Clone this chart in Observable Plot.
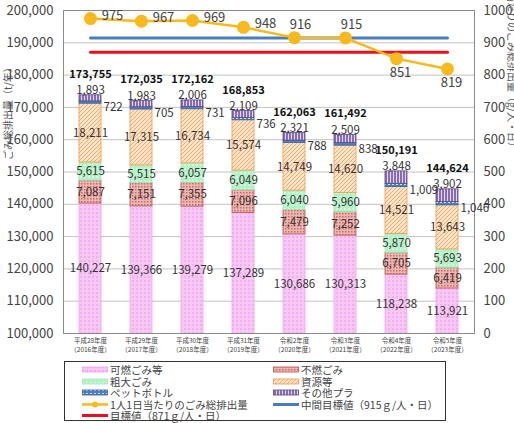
<!DOCTYPE html>
<html><head><meta charset="utf-8">
<script src="https://cdn.jsdelivr.net/npm/d3@7"></script>
<script src="https://cdn.jsdelivr.net/npm/@observablehq/plot@0.6"></script>
<style>
body{margin:0;background:#fff;font-family:"Noto Sans CJK JP","Noto Sans",sans-serif;}
#wrap{position:relative;width:514px;height:423px;overflow:hidden;background:#fff;}
#chart{position:absolute;left:0;top:0;}
#legend{position:absolute;left:64px;top:361px;width:382px;height:60px;border:1.5px solid #333;box-sizing:border-box;font-size:10.5px;color:#444;}
.li{position:absolute;display:flex;align-items:center;height:11px;line-height:11px;white-space:nowrap;}
.li span{line-height:11px;font-size:10.5px;}
.li svg{margin-right:2px;}
</style></head><body><div id="wrap"><div id="chart"></div><div id="legend"></div></div>
<script>
// ---- data ----
const yearLabels = ["平成28年度\n（2016年度）","平成29年度\n（2017年度）","平成30年度\n（2018年度）","平成31年度\n（2019年度）","令和2年度\n（2020年度）","令和3年度\n（2021年度）","令和4年度\n（2022年度）","令和5年度\n（2023年度）"];
const burnable      = [140227,139366,139279,137289,130686,130313,118238,113921];
const nonBurnable   = [7087,7151,7355,7096,7479,7252,6705,6419];
const bulky         = [5615,5515,6057,6049,6040,5960,5870,5693];
const resources     = [18211,17315,16734,15574,14749,14620,14521,13643];
const petBottles    = [722,705,731,736,788,838,1009,1046];
const otherPlastics = [1893,1983,2006,2109,2321,2509,3848,3902];
const totals        = [173755,172035,172162,168853,162063,161492,150191,144624];
const perCapita     = [975,967,969,948,916,915,851,819];
const midTarget = 915;
const target = 871;
const seriesNames = ["可燃ごみ等","不燃ごみ","粗大ごみ","資源等","ペットボトル","その他プラ"];
const leftTicks  = [100000,110000,120000,130000,140000,150000,160000,170000,180000,190000,200000];
const rightTicks = [0,100,200,300,400,500,600,700,800,900,1000];
const leftTitle  = "ごみ総排出量（t/年）";
const rightTitle = "1人1日当たりのごみ総排出量（g/人・日）";

// ---- helpers ----
const yMin = leftTicks[0], yMax = leftTicks[leftTicks.length-1];
const rMax = rightTicks[rightTicks.length-1];
const toY = v => yMin + v * (yMax - yMin) / rMax;
const fromY = y => Math.round((y - yMin) * rMax / (yMax - yMin));
const fmt = d3.format(",");

const seriesValues = [burnable, nonBurnable, bulky, resources, petBottles, otherPlastics];
const rows = [];
yearLabels.forEach((yr, i) => {
  let c = 0;
  seriesValues.forEach((vals, k) => {
    rows.push({year: yr, k, value: vals[i], y1: c, y2: c + vals[i]});
    c += vals[i];
  });
});

const strokeColors = ["#f2a6ef","#c0504d","#9fe6b5","#f79646","#2f63a8","#5f4a80"];

const marks = [
  Plot.gridY(leftTicks, {stroke:"#b4b4b4", strokeOpacity:1, strokeWidth:0.8}),
  ...seriesValues.map((_, k) => Plot.barY(rows.filter(r => r.k === k), {
    x: "year", y1: "y1", y2: "y2", fill: `url(#pat${k})`, stroke: strokeColors[k], strokeWidth: 0.8, clip: true
  })),
  Plot.frame({stroke:"#8a8a8a"}),
  Plot.axisY(leftTicks, {anchor:"left", tickFormat: fmt, tickSize:0, tickPadding:10, fontSize:13, label:null}),
  Plot.axisY(rightTicks.map(toY), {anchor:"right", tickFormat: d => String(fromY(d)), tickSize:0, tickPadding:9, fontSize:13, label:null}),
  Plot.axisX({tickSize:0, tickPadding:3, fontSize:6.5, lineHeight:1.4, label:null}),
  Plot.text([leftTitle], {frameAnchor:"left", dx:-55, dy:-12, rotate:-90, fontSize:10, fill:"#555"}),
  Plot.text([rightTitle], {frameAnchor:"right", dx:37, dy:-20, rotate:90, fontSize:10, fill:"#555"}),
  Plot.line(yearLabels, {x: d => d, y: () => toY(midTarget), stroke:"#4a7ebb", strokeWidth:3}),
  Plot.line(yearLabels, {x: d => d, y: () => toY(target), stroke:"#e8101a", strokeWidth:3}),
  Plot.line(perCapita, {x: (d,i) => yearLabels[i], y: d => toY(d), stroke:"#f9b81b", strokeWidth:2.5}),
  Plot.dot(perCapita, {x: (d,i) => yearLabels[i], y: d => toY(d), r:6.5, fill:"#f9b81b"}),
  Plot.text(perCapita, {filter:(d,i) => i < 4, x:(d,i) => yearLabels[i], y: d => toY(d), text: d => String(d), dx:22, dy:-3, fontSize:13, fill:"#444"}),
  Plot.text(perCapita, {filter:(d,i) => i >= 4 && i < 6, x:(d,i) => yearLabels[i], y: d => toY(d), text: d => String(d), dx:6, dy:-13, fontSize:13, fill:"#444"}),
  Plot.text(perCapita, {filter:(d,i) => i >= 6, x:(d,i) => yearLabels[i], y: d => toY(d), text: d => String(d), dx:4, dy:14, fontSize:13, fill:"#444"}),
  Plot.text(rows.filter(r => r.k <= 3), {x:"year", y: d => (Math.max(d.y1, yMin) + d.y2) / 2, text: d => fmt(d.value), fontSize:11.5, fill:"#333"}),
  Plot.text(rows.filter(r => r.k === 4), {x:"year", y: d => (d.y1 + d.y2) / 2, text: d => fmt(d.value), dx:13, dy:5, textAnchor:"start", fontSize:11.5, fill:"#333"}),
  Plot.text(rows.filter(r => r.k === 5), {x:"year", y:"y2", text: d => fmt(d.value), dy:-5, fontSize:11.5, fill:"#333"}),
  Plot.text(totals, {x:(d,i) => yearLabels[i], y: d => d, text: d => fmt(d), dy:-21, fontSize:11, fontWeight:"bold", fill:"#111"})
];

const svg = Plot.plot({
  width: 514, height: 355,
  marginLeft: 63, marginRight: 40, marginTop: 10, marginBottom: 22,
  style: {fontFamily: '"Noto Sans CJK JP","Noto Sans",sans-serif', color:"#444", background:"#fff"},
  x: {domain: yearLabels, paddingInner: 0.57, paddingOuter: 0.285, axis: null},
  y: {domain: [yMin, yMax], axis: null},
  marks
});

// patterns
const defs = d3.select(svg).insert("defs", ":first-child");
function pat(id, w, h, base, draw) {
  const p = defs.append("pattern").attr("id", id).attr("patternUnits","userSpaceOnUse").attr("width", w).attr("height", h);
  p.append("rect").attr("width", w).attr("height", h).attr("fill", base);
  draw(p);
}
pat("pat0", 4, 4, "#f8c8f5", p => { p.append("rect").attr("x",0).attr("y",0).attr("width",2).attr("height",2).attr("fill","#f3aef0"); });
pat("pat1", 3, 3, "#eab8b2", p => { p.append("rect").attr("x",0).attr("y",0).attr("width",1.5).attr("height",1.5).attr("fill","#cd6a66"); });
pat("pat2", 4, 4, "#b3f1c6", p => { p.append("rect").attr("x",0).attr("y",0).attr("width",2).attr("height",2).attr("fill","#cdf8da"); });
pat("pat3", 4, 4, "#fde5cc", p => { p.append("path").attr("d","M-1,1 L1,-1 M0,4 L4,0 M3,5 L5,3").attr("stroke","#f5a35e").attr("stroke-width",0.9); });
pat("pat4", 4, 3, "#4f81bd", p => { p.append("rect").attr("x",0).attr("y",1).attr("width",2).attr("height",1).attr("fill","#cfe0f5"); });
pat("pat5", 3, 3, "#8a6db0", p => { p.append("rect").attr("x",0).attr("y",0).attr("width",1).attr("height",3).attr("fill","#e2d6f0"); });

document.getElementById("chart").appendChild(svg);

// legend
const legend = document.getElementById("legend");
const legendItems = [
  {label: seriesNames[0], type:"bar", k:0, col:0, row:0},
  {label: seriesNames[1], type:"bar", k:1, col:1, row:0},
  {label: seriesNames[2], type:"bar", k:2, col:0, row:1},
  {label: seriesNames[3], type:"bar", k:3, col:1, row:1},
  {label: seriesNames[4], type:"bar", k:4, col:0, row:2},
  {label: seriesNames[5], type:"bar", k:5, col:1, row:2},
  {label: "1人1日当たりのごみ総排出量", type:"dotline", color:"#f9b81b", col:0, row:3},
  {label: "中間目標値（915ｇ/人・日）", type:"line", color:"#4a7ebb", col:1, row:3},
  {label: "目標値（871ｇ/人・日）", type:"line", color:"#e8101a", col:0, row:4}
];
legendItems.forEach(it => {
  const div = document.createElement("div");
  div.className = "li";
  div.style.left = (it.col === 0 ? 17 : 208) + "px";
  div.style.top = (2 + it.row * 11.5) + "px";
  let sw;
  if (it.type === "bar") {
    sw = `<svg width="26" height="7"><rect x="0.5" y="1" width="25" height="5" fill="url(#pat${it.k})" stroke="${strokeColors[it.k]}" stroke-width="0.8"/></svg>`;
  } else if (it.type === "dotline") {
    sw = `<svg width="26" height="7"><line x1="0" x2="26" y1="3.5" y2="3.5" stroke="${it.color}" stroke-width="2.5"/><circle cx="13" cy="3.5" r="3" fill="${it.color}"/></svg>`;
  } else {
    sw = `<svg width="26" height="7"><line x1="0" x2="26" y1="3.5" y2="3.5" stroke="${it.color}" stroke-width="3"/></svg>`;
  }
  div.innerHTML = sw + `<span>${it.label}</span>`;
  legend.appendChild(div);
});
</script>
</body></html>
